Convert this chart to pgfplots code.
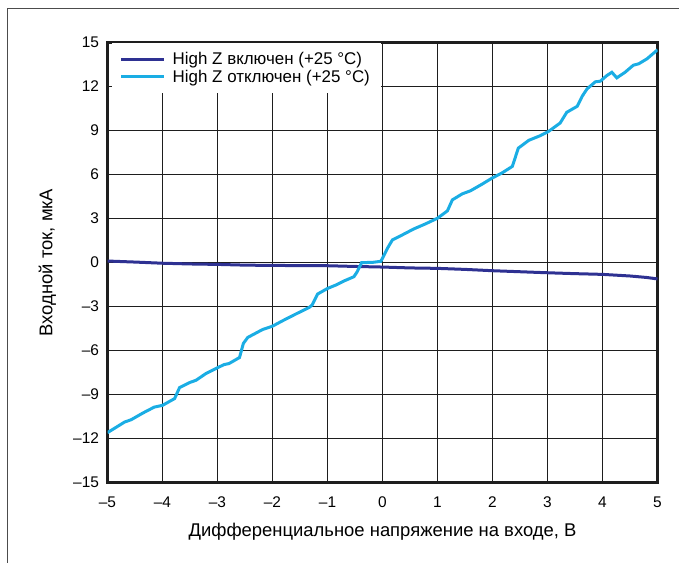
\documentclass[border=0pt]{standalone}
\usepackage{pgfplots}
\pgfplotsset{compat=1.18}
\usepackage{fontspec}
\setmainfont{Liberation Sans}
\definecolor{darkblue}{HTML}{2E3192}
\definecolor{lightblue}{HTML}{1AADE4}
\definecolor{gridc}{HTML}{1E1E1E}
\begin{document}
\begin{tikzpicture}
\path[use as bounding box] (0,0) rectangle (679bp,563bp);
\draw[color=black!70, line width=1.3bp] (7.5bp,0) -- (7.5bp,554.5bp) -- (679bp,554.5bp);
\begin{axis}[
  at={(107.5bp,80.5bp)}, anchor=south west,
  scale only axis, width=550bp, height=440bp,
  xmin=-5, xmax=5, ymin=-15, ymax=15,
  xtick={-5,...,5},
  xticklabels={–5,–4,–3,–2,–1,0,1,2,3,4,5},
  ytick={-15,-12,...,15},
  yticklabels={–15,–12,–9,–6,–3,0,3,6,9,12,15},
  major tick length=0pt,
  grid=major,
  grid style={color=gridc, line width=1.2bp},
  axis line style={color=gridc, line width=2.2bp},
  tick label style={font=\fontsize{15.5}{18}\selectfont, color=black},
  xticklabel style={yshift=-11bp},
  yticklabel style={xshift=-5bp},
  xlabel={Дифференциальное напряжение на входе, В},
  ylabel={Входной ток, мкА},
  label style={font=\fontsize{18.5}{22}\selectfont},
  xlabel style={at={(axis description cs:0.5,-0.1227)}, anchor=base},
  ylabel style={at={(axis description cs:-0.1,0.5)}, anchor=base, rotate=0},
  legend style={at={(axis description cs:0.00727,1)}, anchor=north west, draw=none, fill=white,
    font=\fontsize{17}{20}\selectfont, inner xsep=8bp, inner ysep=8bp, row sep=1bp,
    nodes={inner ysep=1.5bp, inner xsep=3bp},
    /tikz/every odd column/.style={column sep=4bp}},
  legend cell align=left,
  legend image code/.code={\draw[#1] (0bp,0bp) -- (43bp,0bp);},
]
\addplot[color=darkblue, line width=3bp] coordinates {
(-5,0.1) (-4.5,0.03) (-4,-0.05) (-3.5,-0.1) (-3,-0.13) (-2.5,-0.18) (-2,-0.2) (-1.5,-0.21) (-1,-0.22) (-0.5,-0.27) (0,-0.31) (0.5,-0.37) (1,-0.4) (1.5,-0.47) (2,-0.56) (2.5,-0.63) (3,-0.7) (3.5,-0.76) (4,-0.81) (4.5,-0.92) (4.8,-1.02) (5,-1.12)
};
\addlegendentry{High Z включен (+25 °C)}
\addplot[color=lightblue, line width=3bp] coordinates {
(-5,-11.6) (-4.69,-10.88) (-4.57,-10.72) (-4.36,-10.27) (-4.15,-9.86) (-4.0,-9.74) (-3.78,-9.28) (-3.69,-8.53) (-3.51,-8.19) (-3.39,-8.03) (-3.21,-7.57) (-3.03,-7.23) (-2.88,-6.96) (-2.79,-6.89) (-2.60,-6.48) (-2.53,-5.52) (-2.45,-5.11) (-2.18,-4.57) (-2.0,-4.34) (-1.82,-3.98) (-1.58,-3.52) (-1.33,-3.06) (-1.28,-2.9) (-1.18,-2.15) (-1.0,-1.77) (-0.85,-1.54) (-0.70,-1.26) (-0.52,-0.97) (-0.46,-0.63) (-0.38,-0.01) (-0.18,0.01) (-0.03,0.08) (0.03,0.51) (0.09,0.97) (0.18,1.54) (0.36,1.88) (0.57,2.29) (0.78,2.63) (1.0,3.02) (1.18,3.52) (1.27,4.27) (1.45,4.68) (1.60,4.89) (1.81,5.34) (1.99,5.75) (2.17,6.1) (2.36,6.55) (2.47,7.8) (2.66,8.33) (2.87,8.65) (3.02,8.94) (3.23,9.51) (3.35,10.24) (3.54,10.65) (3.63,11.33) (3.72,11.84) (3.87,12.32) (3.96,12.36) (4.08,12.75) (4.17,12.97) (4.26,12.59) (4.41,12.97) (4.56,13.45) (4.66,13.55) (4.81,13.89) (5,14.5)
};
\addlegendentry{High Z отключен (+25 °C)}
\end{axis}
\end{tikzpicture}
\end{document}
